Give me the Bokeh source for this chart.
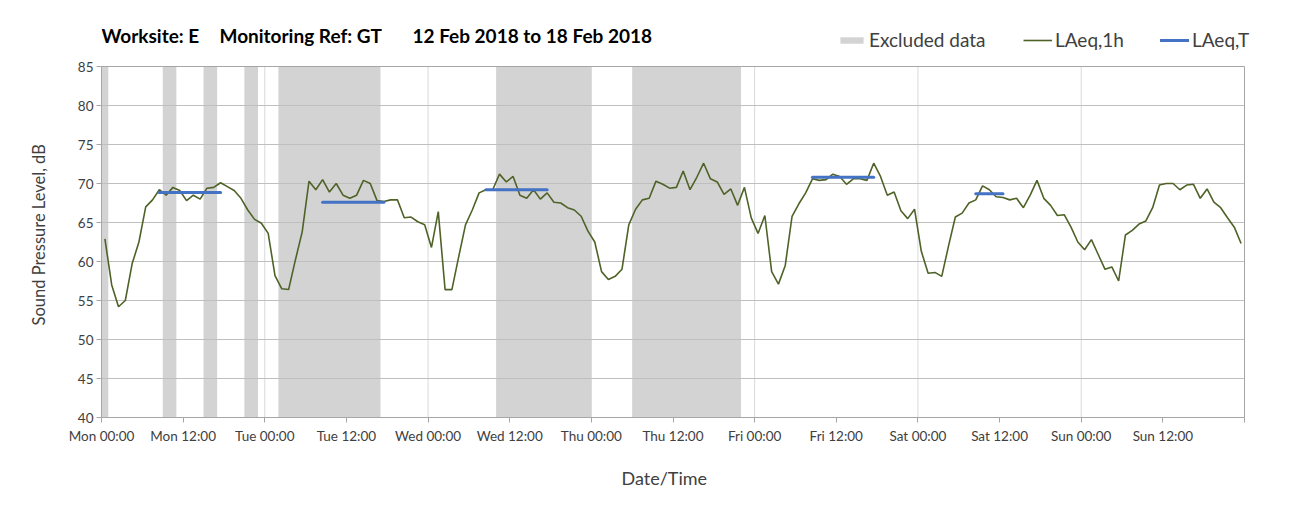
import numpy as np
from bokeh.plotting import figure
from bokeh.models import Range1d, FixedTicker, Label, Legend, LegendItem, Title
from bokeh.embed import file_html
from bokeh.resources import INLINE

# ---------------- data ----------------
# hourly LAeq,1h values, Mon 12 Feb 2018 00:00 .. Sun 18 Feb 2018 23:00 (plotted at mid-hour)
laeq_1h = [
    62.9, 57.0, 54.2, 55.0, 59.7, 62.5, 67.0, 67.9, 69.2, 68.5, 69.5, 69.1,
    67.8, 68.5, 68.0, 69.4, 69.5, 70.1, 69.6, 69.1, 68.1, 66.6, 65.4, 64.9,
    63.6, 58.2, 56.5, 56.4, 60.2, 63.8, 70.3, 69.2, 70.5, 68.9, 70.0, 68.5,
    68.1, 68.5, 70.4, 70.0, 67.8, 67.7, 67.9, 67.9, 65.6, 65.7, 65.1, 64.7,
    61.8, 66.4, 56.4, 56.4, 60.6, 64.7, 66.6, 68.8, 69.2, 69.2, 71.2, 70.2,
    70.9, 68.5, 68.1, 69.2, 68.0, 68.8, 67.6, 67.5, 66.9, 66.6, 65.8, 63.9,
    62.5, 58.7, 57.7, 58.1, 59.0, 64.7, 66.7, 67.9, 68.1, 70.3, 69.9, 69.4,
    69.5, 71.6, 69.2, 70.8, 72.6, 70.6, 70.2, 68.6, 69.3, 67.2, 69.5, 65.6,
    63.6, 65.9, 58.7, 57.1, 59.5, 65.8, 67.4, 68.8, 70.6, 70.4, 70.5, 71.2,
    70.9, 69.9, 70.6, 70.6, 70.4, 72.6, 70.9, 68.5, 68.9, 66.5, 65.5, 66.7,
    61.3, 58.5, 58.6, 58.1, 62.0, 65.7, 66.2, 67.5, 67.9, 69.7, 69.2, 68.3,
    68.2, 67.9, 68.1, 66.9, 68.5, 70.4, 68.1, 67.2, 65.9, 66.0, 64.4, 62.5,
    61.5, 62.8, 60.9, 59.0, 59.3, 57.5, 63.4, 64.0, 64.8, 65.2, 66.9, 69.8,
    70.0, 70.0, 69.2, 69.8, 69.9, 68.1, 69.3, 67.6, 66.9, 65.6, 64.4, 62.3,
]
hour_index = np.arange(len(laeq_1h))          # hours since Mon 00:00
hour_mid = hour_index + 0.5

# excluded data periods (hours since Mon 00:00)
excl_start = [0, 9, 15, 21, 26, 58, 78]
excl_end = [1, 11, 17, 23, 41, 72, 94]

# LAeq,T periods (hours since Mon 00:00) and levels
laeqT_start = [8.5, 32.5, 56.5, 104.5, 128.5]
laeqT_end = [17.5, 41.5, 65.5, 113.5, 132.5]
laeqT_value = [68.85, 67.6, 69.2, 70.8, 68.7]

# axis extents and ticks
X_MIN, X_MAX = 0, 168
Y_MIN, Y_MAX = 40, 85
tick_hours = list(range(0, 169, 12))
tick_labels = ["Mon 00:00", "Mon 12:00", "Tue 00:00", "Tue 12:00", "Wed 00:00",
               "Wed 12:00", "Thu 00:00", "Thu 12:00", "Fri 00:00", "Fri 12:00",
               "Sat 00:00", "Sat 12:00", "Sun 00:00", "Sun 12:00", ""]
day_hours = list(range(24, 168, 24))
y_ticks = list(range(40, 86, 5))

title_parts = ["Worksite: E", "Monitoring Ref: GT", "12 Feb 2018 to 18 Feb 2018"]
legend_labels = ["Excluded data", "LAeq,1h", "LAeq,T"]
x_title = "Date/Time"
y_title = "Sound Pressure Level, dB"

FONT = "Lato"
GREEN = "#4f6228"
BLUE = "#4472c4"
SHADE = "#d3d3d3"
TXT = "#404040"
AXIS = "#a6a6a6"

# ---------------- layout (pixels) ----------------
AREA_W, AREA_H = 1143, 351           # plot area size
EXTRA_RIGHT, EXTRA_TOP = 12, 51      # frame extends beyond the plot area
px_per_h = AREA_W / (X_MAX - X_MIN)
px_per_db = AREA_H / (Y_MAX - Y_MIN)
frame_w = AREA_W + EXTRA_RIGHT
frame_h = AREA_H + EXTRA_TOP
LEFT, TOP = 101, 15

p = figure(frame_width=frame_w, frame_height=frame_h,
           x_range=Range1d(X_MIN, X_MAX + EXTRA_RIGHT / px_per_h),
           y_range=Range1d(Y_MIN, Y_MAX + EXTRA_TOP / px_per_db),
           output_backend="svg", toolbar_location=None, title=None,
           min_border_left=LEFT, min_border_right=30,
           min_border_top=TOP, min_border_bottom=80)
p.outline_line_color = None
p.xgrid.visible = False
p.ygrid.visible = False

# excluded shading
q = p.quad(left=excl_start, right=excl_end, bottom=Y_MIN, top=Y_MAX,
           fill_color=SHADE, line_color=None, level="image")

# grid lines (only inside plot area)
p.segment(x0=day_hours, x1=day_hours, y0=Y_MIN, y1=Y_MAX,
          line_color="#d9d9d9", line_width=1, level="underlay")
p.segment(x0=X_MIN, x1=X_MAX, y0=y_ticks, y1=y_ticks,
          line_color="#bfbfbf", line_width=1, level="underlay")

# plot-area border
p.quad(left=X_MIN, right=X_MAX, bottom=Y_MIN, top=Y_MAX,
       fill_color=None, line_color=AXIS, line_width=1)

# lines
l1 = p.line(hour_mid, laeq_1h, line_color=GREEN, line_width=1.6)
s1 = p.segment(x0=laeqT_start, x1=laeqT_end, y0=laeqT_value, y1=laeqT_value,
               line_color=BLUE, line_width=3, line_cap="round")

# axes
xa = p.xaxis[0]
xa.ticker = FixedTicker(ticks=tick_hours)
xa.major_label_overrides = {h: lab for h, lab in zip(tick_hours, tick_labels)}
xa.bounds = (X_MIN, X_MAX)
ya = p.yaxis[0]
ya.ticker = FixedTicker(ticks=y_ticks)
ya.bounds = (Y_MIN, Y_MAX)
for ax in (xa, ya):
    ax.axis_line_color = AXIS
    ax.major_tick_line_color = AXIS
    ax.minor_tick_line_color = None
    ax.major_tick_in = 0
    ax.major_tick_out = 5
    ax.major_label_text_font = FONT
    ax.major_label_text_font_size = "13.5px"
    ax.major_label_text_color = TXT
xa.major_label_standoff = 5
ya.major_label_standoff = 3

# axis titles as side-panel titles, positioned along the plot area
p.add_layout(Title(text=x_title, align="left", offset=520, standoff=38,
                   vertical_align="middle", text_font=FONT,
                   text_font_size="18px", text_font_style="normal",
                   text_color=TXT), "below")
p.add_layout(Title(text=y_title, align="left", offset=92, standoff=50,
                   vertical_align="middle", text_font=FONT,
                   text_font_size="16.5px", text_font_style="normal",
                   text_color=TXT), "left")

# chart title (three parts)
title_offsets = [0, 118, 311]
for txt, off in zip(title_parts, title_offsets):
    p.add_layout(Label(x=X_MIN, y=Y_MAX, x_offset=off, y_offset=31, text=txt,
                       text_font=FONT, text_font_size="19px",
                       text_font_style="bold", text_color="black",
                       text_baseline="middle", text_align="left"))

# legend: one entry per legend object, placed individually
legend_x = [736, 922, 1059]
for lab, rend, lx in zip(legend_labels, [q, l1, s1], legend_x):
    lg = Legend(items=[LegendItem(label=lab, renderers=[rend])],
                orientation="horizontal", location=(lx, 366),
                glyph_width=29, glyph_height=8, label_standoff=3,
                spacing=0, padding=0, margin=0,
                label_text_font=FONT, label_text_font_size="19px",
                label_text_color=TXT, border_line_color=None,
                background_fill_alpha=0)
    p.add_layout(lg, "center")

open("out.html", "w").write(file_html(p, INLINE))
